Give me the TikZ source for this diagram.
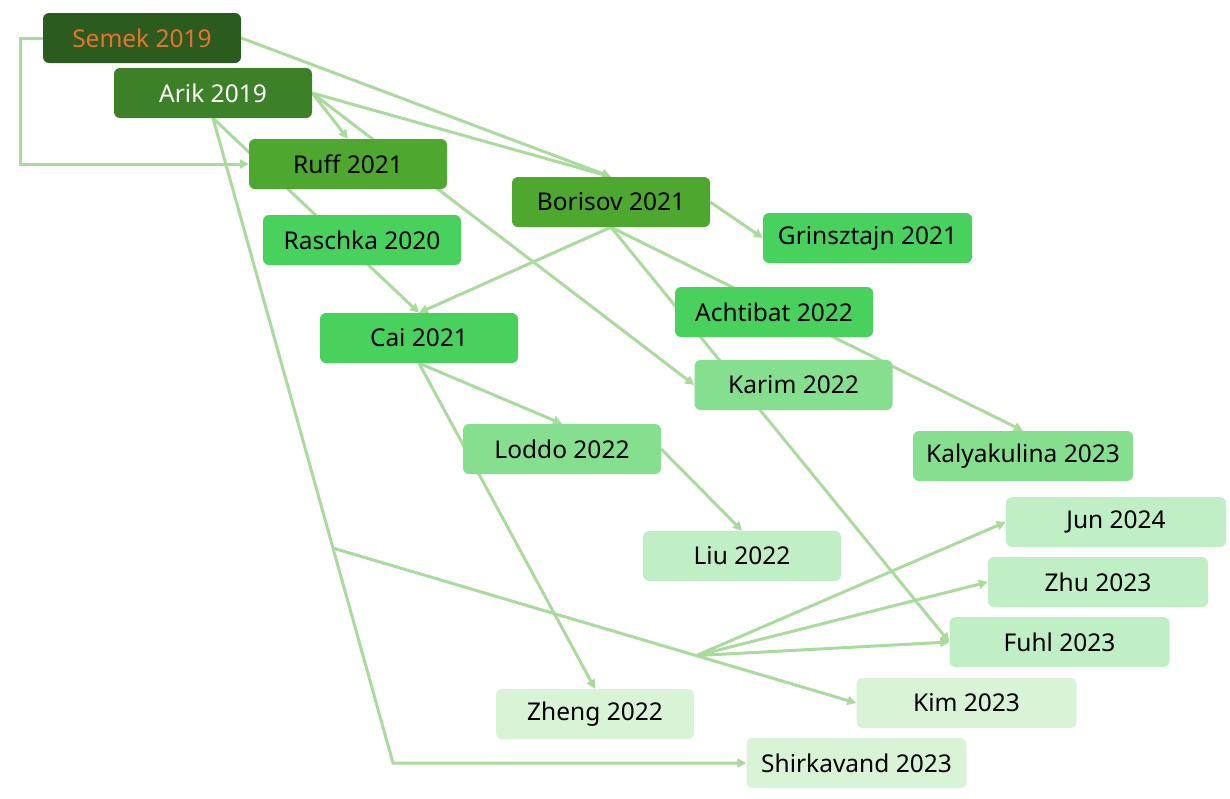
\documentclass[tikz,border=0pt]{standalone}
\usepackage{fontspec}
\setmainfont{Noto Sans}
\usetikzlibrary{arrows.meta,calc,backgrounds}
\definecolor{cSemek}{HTML}{2B5C1E}
\definecolor{cArik}{HTML}{3C8128}
\definecolor{cRuff}{HTML}{4EA72F}
\definecolor{cBright}{HTML}{48D15D}
\definecolor{cMid}{HTML}{86DF8F}
\definecolor{cPale}{HTML}{C1EFC5}
\definecolor{cPalest}{HTML}{D8F3D6}
\definecolor{cLine}{HTML}{A9DC9C}
\definecolor{cOrange}{HTML}{E97132}
\tikzset{
  paper/.style={rectangle, rounded corners=6pt, minimum height=50pt, inner sep=0pt,
    font=\fontsize{24.5}{28}\selectfont, text=black},
  wide/.style={minimum width=198pt},
  wider/.style={minimum width=220pt},
  link/.style={draw=cLine, line width=3pt, -{Triangle[length=9pt,width=9pt]}},
  plain/.style={draw=cLine, line width=3pt}
}
\begin{document}
\begin{tikzpicture}[x=1pt,y=-1pt]
\useasboundingbox (0,0) rectangle (1230,798);
% nodes
\node[paper,wide,fill=cSemek,text=cOrange] (semek) at (142,38) {Semek 2019};
\node[paper,wide,fill=cArik,text=white] (arik) at (213,93) {Arik 2019};
\node[paper,wide,fill=cRuff] (ruff) at (348,164) {Ruff 2021};
\node[paper,wide,fill=cRuff] (borisov) at (611,202) {Borisov 2021};
\node[paper,minimum width=209pt,fill=cBright] (grin) at (867.5,238) {Grinsztajn 2021};
\node[paper,wide,fill=cBright] (raschka) at (362,240) {Raschka 2020};
\node[paper,wide,fill=cBright] (achtibat) at (774,312) {Achtibat 2022};
\node[paper,wide,fill=cBright] (cai) at (419,338) {Cai 2021};
\node[paper,wide,fill=cMid] (karim) at (793.5,385) {Karim 2022};
\node[paper,wide,fill=cMid] (loddo) at (562,449) {Loddo 2022};
\node[paper,wider,fill=cMid] (kaly) at (1023,456) {Kalyakulina 2023};
\node[paper,wider,fill=cPale] (jun) at (1116,522) {Jun 2024};
\node[paper,wide,fill=cPale] (liu) at (742,556) {Liu 2022};
\node[paper,wider,fill=cPale] (zhu) at (1098,582) {Zhu 2023};
\node[paper,wider,fill=cPale] (fuhl) at (1059.5,642) {Fuhl 2023};
\node[paper,wider,fill=cPalest] (kim) at (966.5,703) {Kim 2023};
\node[paper,wide,fill=cPalest] (zheng) at (595,714) {Zheng 2022};
\node[paper,wider,fill=cPalest] (shirk) at (856.5,763) {Shirkavand 2023};
% connectors
\begin{pgfonlayer}{background}
\coordinate (semekbend) at (20,38);
\coordinate (trunkcorner) at (393,763);
\coordinate (branch) at ($(arik.south)!0.6667!(trunkcorner)$);
\coordinate (fan) at ($(branch)!0.694!(kim.west)$);
\draw[link] (semek.west) -- (semekbend) |- (ruff.west);
\draw[link] (semek.east) -- (borisov.north);
\draw[link] (arik.east) -- (ruff.north);
\draw[link] (arik.east) -- (borisov.north);
\draw[link] (arik.east) -- (karim.west);
\draw[link] (arik.south) -- (cai.north);
\draw[link] (arik.south) -- (trunkcorner) -- (shirk.west);
\draw[link] (branch) -- (kim.west);
\draw[link] (fan) -- (jun.west);
\draw[link] (fan) -- (zhu.west);
\draw[link] (fan) -- (fuhl.west);
\draw[link] (borisov.east) -- (grin.west);
\draw[link] (borisov.south) -- (cai.north);
\draw[link] (borisov.south) -- (kaly.north);
\draw[link] (borisov.south) -- (fuhl.west);
\draw[link] (cai.south) -- (loddo.north);
\draw[link] (cai.south) -- (zheng.north);
\draw[link] (loddo.east) -- (liu.north);
\end{pgfonlayer}
\end{tikzpicture}
\end{document}
